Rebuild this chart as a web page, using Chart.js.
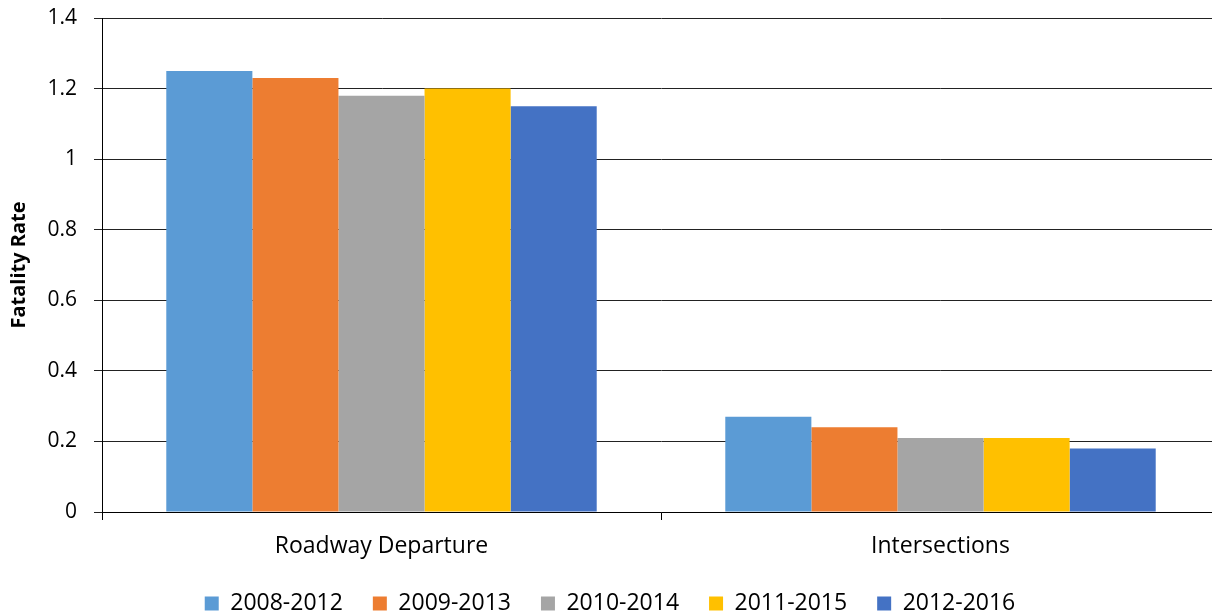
<!DOCTYPE html>
<html>
<head>
<meta charset="utf-8">
<script src="https://cdn.jsdelivr.net/npm/chart.js@4"></script>
<style>
  html, body { margin: 0; padding: 0; background: #fff; }
  #wrap { width: 1212px; height: 616px; overflow: hidden; }
</style>
</head>
<body>
<div id="wrap"><canvas id="chart" width="1220" height="616"></canvas></div>
<script>
// 資料
const categories = ["Roadway Departure", "Intersections"];
const periods = ["2008-2012", "2009-2013", "2010-2014", "2011-2015", "2012-2016"];
const rate2008 = [1.25, 0.27];
const rate2009 = [1.23, 0.24];
const rate2010 = [1.18, 0.21];
const rate2011 = [1.20, 0.21];
const rate2012 = [1.15, 0.18];
const yTicks = [0, 0.2, 0.4, 0.6, 0.8, 1, 1.2, 1.4];

const colors = ["#5B9BD5", "#ED7D31", "#A5A5A5", "#FFC000", "#4472C4"];
const series = [rate2008, rate2009, rate2010, rate2011, rate2012];
const font = "'Open Sans', Lato, sans-serif";

new Chart(document.getElementById("chart"), {
    type: "bar",
    data: {
        labels: categories,
        datasets: periods.map((p, i) => ({
            label: p,
            data: series[i],
            backgroundColor: colors[i],
            borderWidth: 0,
            barPercentage: 1,
            categoryPercentage: 0.77
        }))
    },
    options: {
        responsive: false,
        animation: false,
        layout: { padding: { top: 0, right: 0, left: 0, bottom: 0 } },
        plugins: {
            legend: {
                position: "bottom",
                maxHeight: 54,
                labels: {
                    color: "#000",
                    font: { family: font, size: 23 },
                    boxWidth: 14,
                    boxHeight: 14,
                    padding: 30
                }
            },
            tooltip: { enabled: false }
        },
        scales: {
            x: {
                grid: {
                    offset: true,
                    drawOnChartArea: false,
                    color: "#000",
                    tickLength: 8
                },
                border: { color: "#000", width: 1 },
                ticks: {
                    color: "#000",
                    font: { family: font, size: 23 },
                    padding: 13
                },
                afterFit(scale) { scale.height = 50; }
            },
            y: {
                min: 0,
                max: 1.4,
                afterBuildTicks(scale) {
                    scale.ticks = yTicks.map(v => ({ value: v }));
                },
                grid: {
                    color: "#222",
                    tickLength: 8
                },
                border: { color: "#000", width: 1 },
                ticks: {
                    color: "#000",
                    font: { family: font, size: 21 },
                    padding: 17,
                    callback: v => String(Math.round(v * 10) / 10)
                },
                title: {
                    display: true,
                    text: "Fatality Rate",
                    color: "#000",
                    font: { family: font, size: 20, weight: "bold" },
                    padding: { top: 7, bottom: 2 }
                },
                afterFit(scale) {
                    scale.width = 102;
                    scale.paddingTop = 18; // 圖區頂端對齊 1.4
                }
            }
        }
    }
});
</script>
</body>
</html>
